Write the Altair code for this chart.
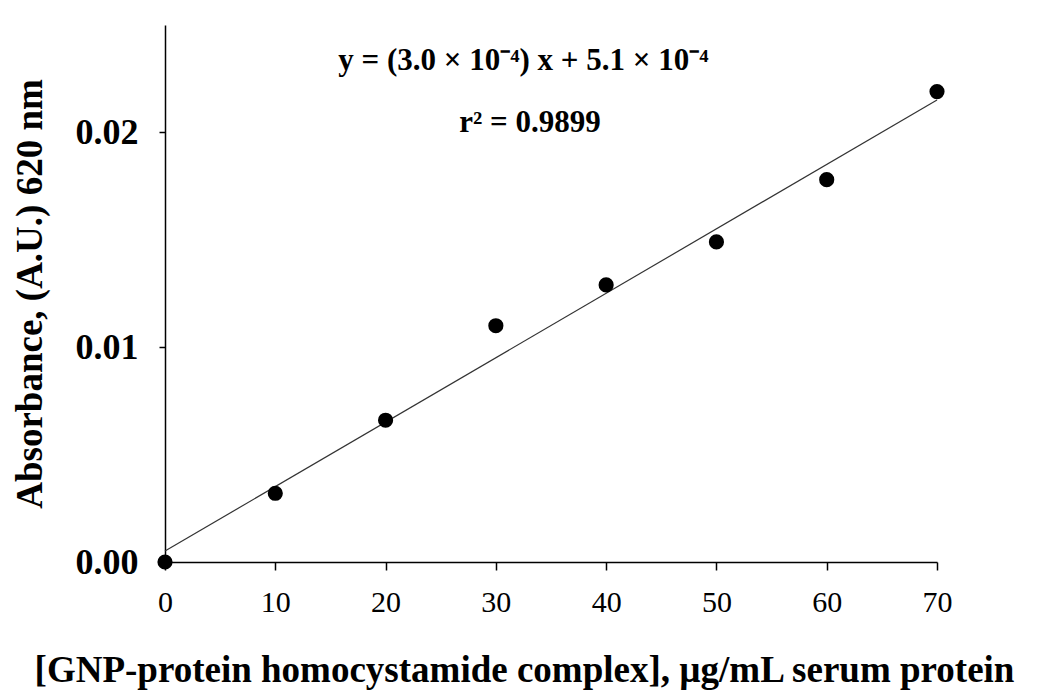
import altair as alt
import pandas as pd

conc = [0, 10, 20, 30, 40, 50, 60, 70]
absorb = [0.0000, 0.0032, 0.0066, 0.0110, 0.0129, 0.0149, 0.0178, 0.0219]
slope = 3.0e-4
intercept = 5.1e-4
fit_x = [0, 70]
fit_y = [intercept + slope * v for v in fit_x]
eq_text = ["y = (3.0 × 10⁻⁴) x + 5.1 × 10⁻⁴", "r² = 0.9899"]
eq_x = [32.5, 33.1]
eq_y = [0.0229, 0.0200]

pts = pd.DataFrame({"x": conc, "y": absorb})
fit = pd.DataFrame({"x": fit_x, "y": fit_y})
ann = pd.DataFrame({"x": eq_x, "y": eq_y, "t": eq_text})

xs = alt.Scale(domain=[0, 70], nice=False, zero=False)
ys = alt.Scale(domain=[0, 0.025], nice=False)

xaxis = alt.Axis(values=[0, 10, 20, 30, 40, 50, 60, 70], format="d", grid=False,
                 title="[GNP-protein homocystamide complex], µg/mL serum protein",
                 titleFont="Liberation Serif", titleFontSize=37, titleFontWeight="bold",
                 titleColor="black", titlePadding=35, titleX=359, titleAlign="center",
                 labelFont="Liberation Serif", labelFontSize=30, labelColor="black",
                 labelPadding=17, labelFlush=False, tickSize=8, tickColor="black",
                 tickWidth=1.5, domainColor="black", domainWidth=1.5)
yaxis = alt.Axis(values=[0, 0.01, 0.02], format=".2f", grid=False,
                 title="Absorbance, (A.U.) 620 nm",
                 titleFont="Liberation Serif", titleFontSize=37, titleFontWeight="bold",
                 titleColor="black", titlePadding=26,
                 labelFont="Liberation Serif", labelFontSize=36, labelFontWeight="bold",
                 labelColor="black", labelPadding=21, labelFlush=False, tickSize=6,
                 tickColor="black", tickWidth=1.5, domainColor="black", domainWidth=1.5)

line = alt.Chart(fit).mark_line(color="#333333", strokeWidth=1.2).encode(
    x=alt.X("x:Q", scale=xs, axis=xaxis), y=alt.Y("y:Q", scale=ys, axis=yaxis))
dots = alt.Chart(pts).mark_circle(color="black", opacity=1, size=230).encode(
    x=alt.X("x:Q", scale=xs), y=alt.Y("y:Q", scale=ys))
text = alt.Chart(ann).mark_text(font="Liberation Serif", fontSize=31, fontWeight="bold",
                                color="black", baseline="alphabetic").encode(
    x=alt.X("x:Q", scale=xs), y=alt.Y("y:Q", scale=ys), text="t:N")

chart = alt.layer(line, dots, text).properties(
    width=772, height=537,
    autosize=alt.AutoSizeParams(type="none"),
    padding={"left": 165, "top": 25, "right": 105, "bottom": 134},
    background="white",
).configure_view(stroke=None)

chart.save("out.html", embed_options={"renderer": "svg", "actions": False})
